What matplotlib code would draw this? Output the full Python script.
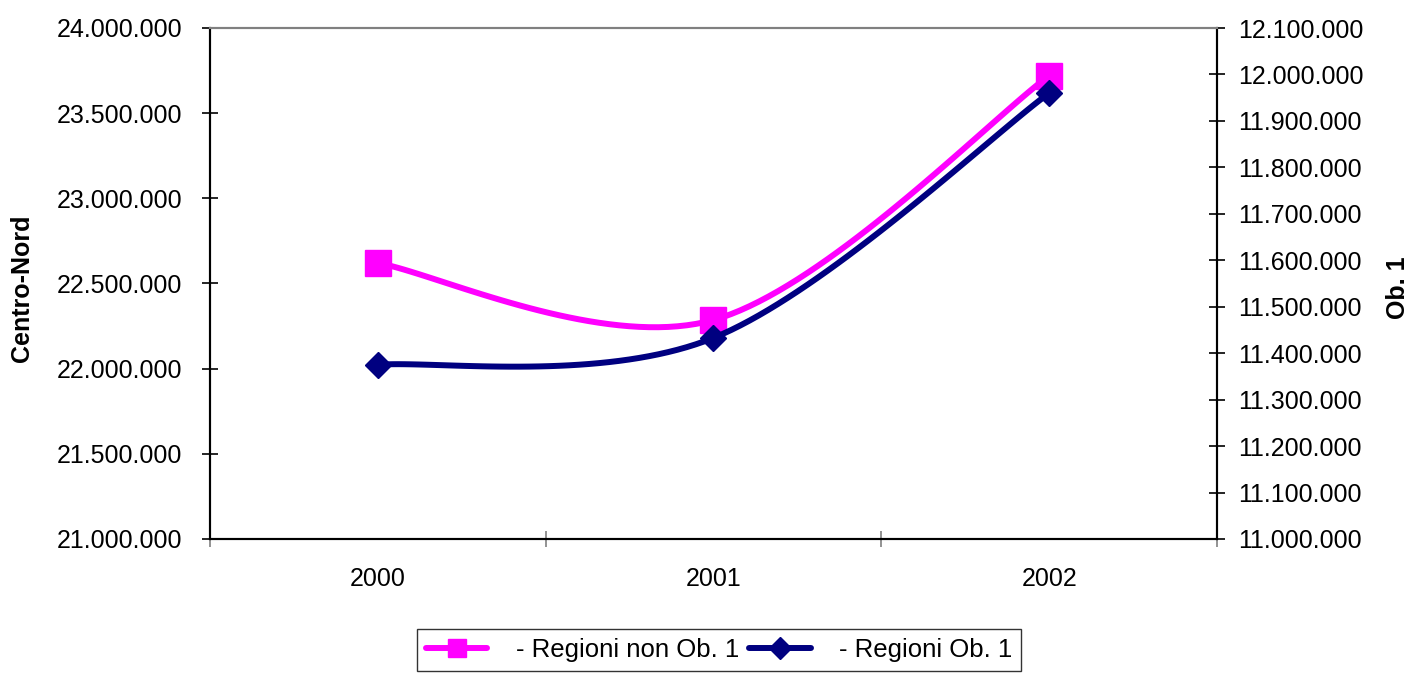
import numpy as np
import matplotlib
matplotlib.use('Agg')
import matplotlib.pyplot as plt
from matplotlib.ticker import FuncFormatter, FixedLocator
from matplotlib.lines import Line2D

plt.rcParams['font.family'] = ['Liberation Sans', 'DejaVu Sans']

years = [2000, 2001, 2002]
non_ob1 = [22620000, 22286000, 23720000]   # Centro-Nord, left axis
ob1 = [11375000, 11433000, 11960000]       # Ob. 1, right axis

pink = '#FF00FF'
navy = '#000080'


def smooth(xs, ys, n=40):
    # bezier curve through the points, like the "smoothed line" option
    xs = np.asarray(xs, float)
    ys = np.asarray(ys, float)
    px, py = [], []
    for i in range(len(xs) - 1):
        i0 = max(i - 1, 0)
        i3 = min(i + 2, len(xs) - 1)
        c1x = xs[i] + (xs[i + 1] - xs[i0]) / 6
        c1y = ys[i] + (ys[i + 1] - ys[i0]) / 6
        c2x = xs[i + 1] - (xs[i3] - xs[i]) / 6
        c2y = ys[i + 1] - (ys[i3] - ys[i]) / 6
        t = np.linspace(0, 1, n)
        px.extend((1 - t)**3 * xs[i] + 3 * (1 - t)**2 * t * c1x + 3 * (1 - t) * t**2 * c2x + t**3 * xs[i + 1])
        py.extend((1 - t)**3 * ys[i] + 3 * (1 - t)**2 * t * c1y + 3 * (1 - t) * t**2 * c2y + t**3 * ys[i + 1])
    return px, py


def fmt(v, pos):
    return '{:,.0f}'.format(v).replace(',', '.')


fig = plt.figure(figsize=(14.11, 6.74), dpi=100)
ax = fig.add_axes([210 / 1411, 1 - 539 / 674, (1217 - 210) / 1411, (539 - 28) / 674])
ax2 = ax.twinx()

sx, sy = smooth(years, non_ob1)
ax.plot(sx, sy, color=pink, lw=4.3, solid_capstyle='round')
ax.plot(years, non_ob1, 's', color=pink, ms=18.5)

sx, sy = smooth(years, ob1)
ax2.plot(sx, sy, color=navy, lw=4.3, solid_capstyle='round')
ax2.plot(years, ob1, 'D', color=navy, ms=13)

ax.set_xlim(1999.5, 2002.5)
ax.set_ylim(21000000, 24000000)
ax2.set_ylim(11000000, 12100000)

ax.set_yticks(np.arange(21000000, 24000001, 500000))
ax2.set_yticks(np.arange(11000000, 12100001, 100000))
ax.yaxis.set_major_formatter(FuncFormatter(fmt))
ax2.yaxis.set_major_formatter(FuncFormatter(fmt))

ax.set_xticks(years)
ax.xaxis.set_minor_locator(FixedLocator([1999.5, 2000.5, 2001.5, 2002.5]))
ax.tick_params(axis='x', which='major', length=0, pad=20, labelsize=18)
ax.tick_params(axis='x', which='minor', direction='inout', length=12, width=1.2, color='#808080')
ax.tick_params(axis='y', direction='inout', length=12, width=1.2, pad=14, labelsize=18)
ax2.tick_params(axis='y', direction='inout', length=12, width=1.2, pad=9, labelsize=18)

for a in (ax, ax2):
    a.spines['top'].set_color('#808080')
    a.spines['top'].set_linewidth(1.5)
    for s in ('left', 'right', 'bottom'):
        a.spines[s].set_linewidth(1.5)

fig.text(22 / 1411, 1 - 288 / 674, 'Centro-Nord', fontsize=18, fontweight='bold',
         rotation=90, ha='center', va='center')
fig.text(1398 / 1411, 1 - 288 / 674, 'Ob. 1', fontsize=18, fontweight='bold',
         rotation=90, ha='center', va='center')

handles = [
    Line2D([], [], color=pink, lw=4.3, marker='s', ms=13, solid_capstyle='round'),
    Line2D([], [], color=navy, lw=4.3, marker='D', ms=11, solid_capstyle='round'),
]
leg = fig.legend(handles, ['- Regioni non Ob. 1', '- Regioni Ob. 1'], ncol=2,
                 loc='center', bbox_to_anchor=(719 / 1411, 1 - 650 / 674),
                 prop={'size': 18.5}, frameon=True, fancybox=False, edgecolor='black',
                 handlelength=2.4, handletextpad=1.1, columnspacing=0.4,
                 borderpad=0.35, borderaxespad=0)
leg.get_frame().set_linewidth(1.0)

fig.savefig('out.png', dpi=100)
